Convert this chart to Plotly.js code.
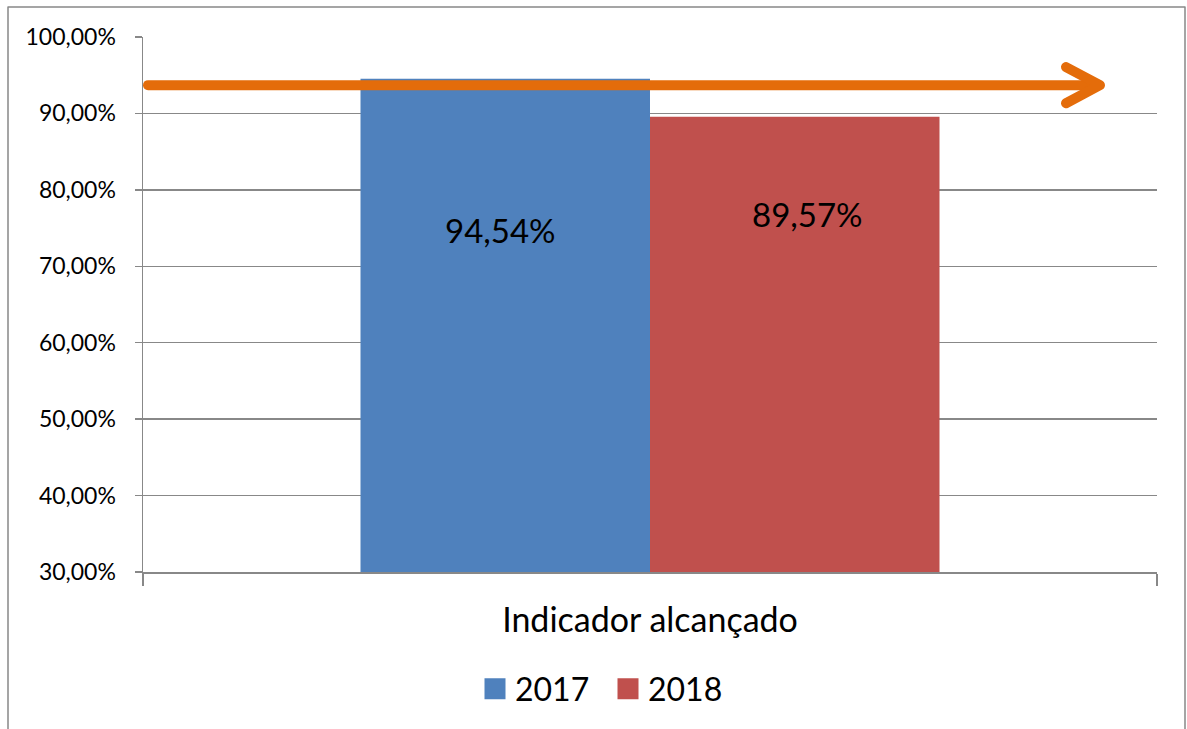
<!DOCTYPE html>
<html>
<head>
<meta charset="utf-8">
<script src="https://cdn.plot.ly/plotly-3.0.1.min.js"></script>
<style>
  html, body { margin: 0; padding: 0; background: #fff; }
  #chart { width: 1187px; height: 729px; }
  .shapelayer path { stroke-linecap: round; stroke-linejoin: round; }
</style>
</head>
<body>
<div id="chart"></div>
<script>
// ---- data ----
const categories = ["Indicador alcançado"];
const seriesNames = ["2017", "2018"];
const values2017 = [0.9454];
const values2018 = [0.8957];
const targetValue = 0.937;
const yTickLabelsRange = [0.3, 1.0];

// ---- styling ----
const FONT = "Lato, 'Liberation Sans', sans-serif";
const GRID = "#888888";
const colors = ["#4F81BD", "#C0504D"];
const ORANGE = "#E46C0A";

function fmtPct(v) {
  return (v * 100).toFixed(2).replace('.', ',') + '%';
}

const allValues = [values2017, values2018];
const traces = allValues.map((vals, i) => ({
  type: 'bar',
  name: seriesNames[i],
  x: categories,
  y: vals,
  marker: { color: colors[i] },
  hoverinfo: 'skip'
}));

// label placement (manually placed in original): x pixel shift and y offset below top
const labelXShift = [-150, 157];
const labelYOffset = [-0.1973, -0.1267];
const annotations = [];
allValues.forEach((vals, i) => {
  vals.forEach((v, j) => {
    annotations.push({
      x: categories[j], xref: 'x', y: v + labelYOffset[i], yref: 'y',
      xshift: labelXShift[i],
      text: fmtPct(v), showarrow: false,
      font: { family: FONT, size: 33, color: '#000' },
      xanchor: 'center', yanchor: 'middle'
    });
  });
});

// paper-x helpers for the arrow (plot area spans 143..1157 px)
const px = p => (p - 143) / 1014;

const shapes = [
  // outer chart frame
  { type: 'rect', xref: 'paper', yref: 'paper',
    x0: px(8), x1: px(1185), y0: (572 - 7) / 535, y1: (572 - 740) / 535,
    line: { color: GRID, width: 1.5 }, fillcolor: 'rgba(0,0,0,0)', layer: 'above' },
  // target arrow shaft
  { type: 'line', xref: 'paper', yref: 'y',
    x0: px(148), x1: px(1098), y0: targetValue, y1: targetValue,
    line: { color: ORANGE, width: 10 }, layer: 'above' },
  // arrow head (open chevron)
  { type: 'path', xref: 'paper', yref: 'y',
    path: `M ${px(1066)},${targetValue + 0.0237} L ${px(1100)},${targetValue} L ${px(1066)},${targetValue - 0.0237}`,
    line: { color: ORANGE, width: 10 }, fillcolor: 'rgba(0,0,0,0)', layer: 'above' }
];

const layout = {
  width: 1187, height: 729,
  margin: { l: 143, r: 30, t: 37, b: 157 },
  paper_bgcolor: '#fff', plot_bgcolor: '#fff',
  separators: ',.',
  barmode: 'group',
  bargap: 0.429,
  bargroupgap: 0,
  font: { family: FONT, color: '#000' },
  showlegend: true,
  legend: {
    orientation: 'h',
    x: px(475), xanchor: 'left',
    y: (572 - 689) / 535, yanchor: 'middle',
    font: { family: FONT, size: 32, color: '#000' },
    entrywidth: 88, entrywidthmode: 'pixels',
    traceorder: 'normal'
  },
  xaxis: {
    type: 'category',
    showline: true, linecolor: GRID, linewidth: 1.5,
    ticks: 'outside', tickson: 'boundaries', ticklen: 12, tickcolor: GRID, tickwidth: 1.5,
    showgrid: false,
    tickfont: { family: FONT, size: 34, color: '#000' },
    ticklabelstandoff: 18,
    fixedrange: true
  },
  yaxis: {
    range: yTickLabelsRange,
    dtick: 0.1, tick0: 0,
    tickformat: '.2%',
    showline: true, linecolor: GRID, linewidth: 1.5,
    ticks: 'outside', ticklen: 7, tickcolor: GRID, tickwidth: 1.5,
    showgrid: true, gridcolor: GRID, gridwidth: 1.5,
    zeroline: false,
    tickfont: { family: FONT, size: 23, color: '#000' },
    ticklabelstandoff: 14,
    fixedrange: true
  },
  shapes: shapes,
  annotations: annotations
};

Plotly.newPlot('chart', traces, layout, { displayModeBar: false, staticPlot: true }).then(gd => {
  gd.querySelectorAll('.legendpoints path').forEach(p => p.setAttribute('d', 'M10.5,10.5H-10.5V-10.5H10.5Z'));
});
</script>
</body>
</html>
